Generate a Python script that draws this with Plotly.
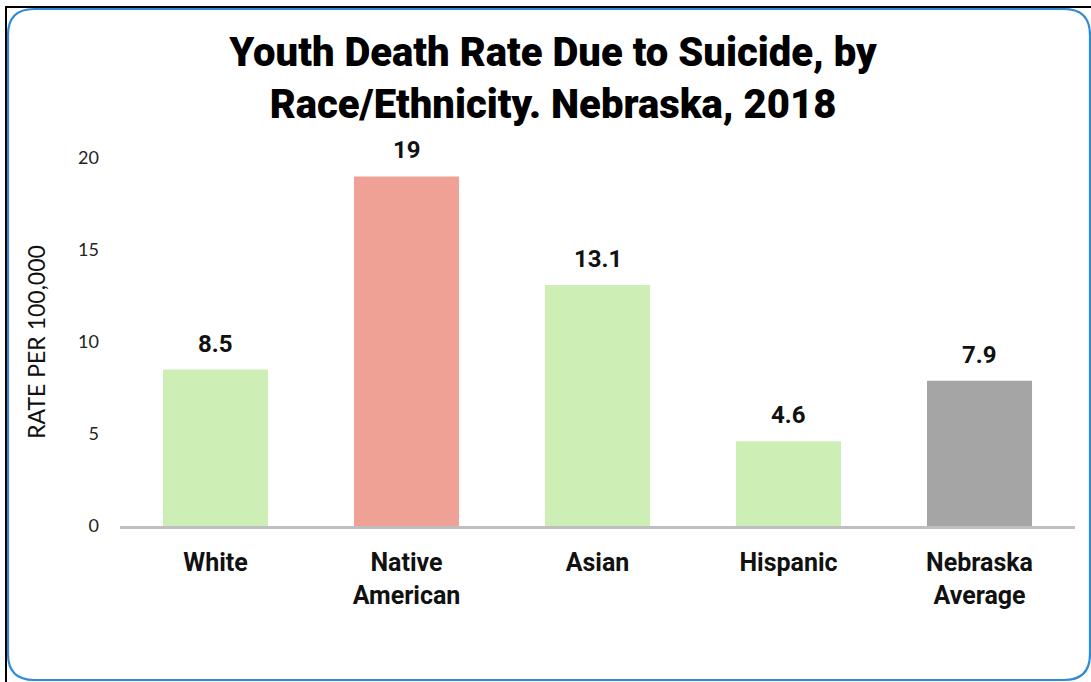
import plotly.graph_objects as go

# Chart data
categories = ["White", "Native<br>American", "Asian", "Hispanic", "Nebraska<br>Average"]
rates = [8.5, 19, 13.1, 4.6, 7.9]
rate_labels = ["8.5", "19", "13.1", "4.6", "7.9"]
bar_colors = ["#CDEFB6", "#F0A195", "#CDEFB6", "#CDEFB6", "#A5A5A5"]
y_ticks = [0, 5, 10, 15, 20]

W, H = 1091, 682
L, R, T, B = 120, 16, 158, 156
plot_w = W - L - R
plot_h = H - T - B

BOLD = "Roboto, DejaVu Sans, sans-serif"
REG = "Lato, Century Gothic, sans-serif"


def px_x(p):
    return (p - L) / plot_w


def px_y(p):
    return (H - B - p) / plot_h


fig = go.Figure(
    go.Bar(
        x=categories,
        y=rates,
        marker=dict(color=bar_colors, line=dict(width=0)),
        hoverinfo="skip",
    )
)

# Value labels above each bar
for cat, val, lab in zip(categories, rates, rate_labels):
    fig.add_annotation(
        x=cat, y=val, text=lab, showarrow=False,
        yanchor="bottom", yshift=10,
        font=dict(family=BOLD, size=24, color="#111111", weight="bold"),
    )

# Frame: black edge lines plus a rounded blue border
x0, y0, x1, y1, r = 8, 9, 1090, 680, 26
rx = r / plot_w
ry = r / plot_h
path = (
    f"M {px_x(x0)} {px_y(y0 + r)} "
    f"Q {px_x(x0)} {px_y(y0)} {px_x(x0) + rx} {px_y(y0)} "
    f"L {px_x(x1) - rx} {px_y(y0)} "
    f"Q {px_x(x1)} {px_y(y0)} {px_x(x1)} {px_y(y0) - ry} "
    f"L {px_x(x1)} {px_y(y1) + ry} "
    f"Q {px_x(x1)} {px_y(y1)} {px_x(x1) - rx} {px_y(y1)} "
    f"L {px_x(x0) + rx} {px_y(y1)} "
    f"Q {px_x(x0)} {px_y(y1)} {px_x(x0)} {px_y(y1) + ry} Z"
)
shapes = [
    dict(type="path", xref="paper", yref="paper", path=path,
         line=dict(color="#2F8AD8", width=2.2), layer="below"),
    dict(type="line", xref="paper", yref="paper",
         x0=px_x(5), x1=px_x(W), y0=px_y(7), y1=px_y(7),
         line=dict(color="#000000", width=2)),
    dict(type="line", xref="paper", yref="paper",
         x0=px_x(6), x1=px_x(6), y0=px_y(6), y1=px_y(H),
         line=dict(color="#000000", width=2)),
]

fig.update_layout(
    width=W,
    height=H,
    margin=dict(l=L, r=R, t=T, b=B),
    paper_bgcolor="white",
    plot_bgcolor="white",
    bargap=0.45,
    showlegend=False,
    shapes=shapes,
    title=dict(
        text="Youth Death Rate Due to Suicide, by<br>Race/Ethnicity. Nebraska, 2018",
        x=553 / W,
        xanchor="center",
        y=1 - 66 / H,
        yanchor="middle",
        font=dict(family=BOLD, size=40, color="#000000", weight=900),
    ),
    xaxis=dict(
        showgrid=False,
        showline=True,
        linecolor="#BFBFBF",
        linewidth=3,
        ticks="",
        ticklabelstandoff=12,
        tickfont=dict(family=BOLD, size=25, color="#111111", weight="bold"),
    ),
    yaxis=dict(
        range=[0, 20],
        tickvals=y_ticks,
        showgrid=False,
        zeroline=False,
        showline=False,
        ticks="",
        ticklabelstandoff=20,
        tickfont=dict(family=REG, size=18, color="#222222"),
        title=dict(
            text="RATE PER 100,000",
            standoff=26,
            font=dict(family=REG, size=23, color="#111111"),
        ),
    ),
)

fig.write_html("out.html")
